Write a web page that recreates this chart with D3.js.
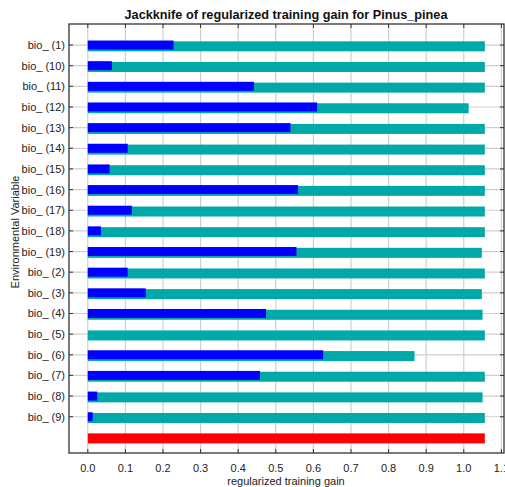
<svg id="svg" width="505" height="487"></svg>
<script src="https://cdn.jsdelivr.net/npm/d3@7"></script>
<script>
    // jackknife values
    var variables = ["bio_ (1)", "bio_ (10)", "bio_ (11)", "bio_ (12)", "bio_ (13)", "bio_ (14)", "bio_ (15)",
        "bio_ (16)", "bio_ (17)", "bio_ (18)", "bio_ (19)", "bio_ (2)", "bio_ (3)", "bio_ (4)", "bio_ (5)",
        "bio_ (6)", "bio_ (7)", "bio_ (8)", "bio_ (9)"];
    var withoutVar = [1.056, 1.056, 1.056, 1.013, 1.056, 1.056, 1.056, 1.056, 1.056, 1.056, 1.048, 1.056,
        1.048, 1.050, 1.056, 0.869, 1.056, 1.050, 1.056];
    var onlyVar = [0.228, 0.064, 0.442, 0.610, 0.539, 0.106, 0.058, 0.559, 0.117, 0.035, 0.555, 0.106,
        0.154, 0.474, 0.0, 0.626, 0.458, 0.025, 0.013];
    var allVars = 1.056;
    var xTicks = [0, 0.1, 0.2, 0.3, 0.4, 0.5, 0.6, 0.7, 0.8, 0.9, 1.0, 1.1];

    var pLeft = 69, pRight = 504, pTop = 24, pBottom = 453;
    var svg = d3.select("#svg");
    var font = "Arial, 'Liberation Sans', sans-serif";

    var rows = variables.concat(["all"]);
    var x = d3.scaleLinear().domain([-0.05, 1.107]).range([pLeft, pRight]);
    var y = d3.scaleBand().domain(rows).range([34.7, 447.7]).padding(0);
    var cy = function (d) { return y(d) + y.bandwidth() / 2; };

    // grid
    svg.append("g").selectAll("line").data(xTicks).enter().append("line")
        .attr("x1", function (d) { return x(d); }).attr("x2", function (d) { return x(d); })
        .attr("y1", pTop).attr("y2", pBottom)
        .attr("stroke", "#cfcfcf").attr("stroke-width", 1.2);
    svg.append("g").selectAll("line").data(variables).enter().append("line")
        .attr("x1", pLeft).attr("x2", pRight)
        .attr("y1", cy).attr("y2", cy)
        .attr("stroke", "#cfcfcf").attr("stroke-width", 1.2);

    // bars: without variable (teal), only variable (blue), all variables (red)
    svg.append("g").selectAll("rect").data(variables).enter().append("rect")
        .attr("x", x(0)).attr("y", function (d) { return cy(d) - 3.7; })
        .attr("width", function (d, i) { return x(withoutVar[i]) - x(0); })
        .attr("height", 10)
        .attr("fill", "#00a8a8");
    svg.append("g").selectAll("rect").data(variables).enter().append("rect")
        .attr("x", x(0)).attr("y", function (d) { return cy(d) - 4.5; })
        .attr("width", function (d, i) { return x(onlyVar[i]) - x(0); })
        .attr("height", 9)
        .attr("fill", "#0000ff");
    svg.append("rect")
        .attr("x", x(0)).attr("y", cy("all") - 4)
        .attr("width", x(allVars) - x(0)).attr("height", 10)
        .attr("fill", "#ff0000");

    // frame and ticks
    svg.append("rect").attr("x", pLeft).attr("y", pTop)
        .attr("width", pRight - pLeft).attr("height", pBottom - pTop)
        .attr("fill", "none").attr("stroke", "#333").attr("stroke-width", 1.3);
    var ticks = svg.append("g").attr("stroke", "#333");
    xTicks.forEach(function (t) {
        ticks.append("line").attr("x1", x(t)).attr("x2", x(t)).attr("y1", pTop).attr("y2", pTop + 4);
        ticks.append("line").attr("x1", x(t)).attr("x2", x(t)).attr("y1", pBottom).attr("y2", pBottom - 4);
    });
    variables.forEach(function (v) {
        ticks.append("line").attr("x1", pLeft).attr("x2", pLeft + 4).attr("y1", cy(v)).attr("y2", cy(v));
        ticks.append("line").attr("x1", pRight).attr("x2", pRight - 4).attr("y1", cy(v)).attr("y2", cy(v));
    });

    // labels
    svg.append("g").selectAll("text").data(xTicks).enter().append("text")
        .attr("x", function (d) { return x(d); }).attr("y", 472)
        .attr("text-anchor", "middle")
        .attr("font-family", font).attr("font-size", 11).attr("fill", "#222")
        .text(d3.format(".1f"));
    svg.append("g").selectAll("text").data(variables).enter().append("text")
        .attr("x", 65).attr("y", function (d) { return cy(d) + 4; })
        .attr("text-anchor", "end")
        .attr("font-family", font).attr("font-size", 11).attr("fill", "#222")
        .text(function (d) { return d; });

    svg.append("text").attr("x", 286).attr("y", 19).attr("text-anchor", "middle")
        .attr("font-family", font).attr("font-size", 12.7).attr("font-weight", "bold").attr("fill", "#111")
        .text("Jackknife of regularized training gain for Pinus_pinea");
    svg.append("text").attr("x", 286).attr("y", 485).attr("text-anchor", "middle")
        .attr("font-family", font).attr("font-size", 11).attr("fill", "#222")
        .text("regularized training gain");
    svg.append("text").attr("transform", "translate(19,232) rotate(-90)").attr("text-anchor", "middle")
        .attr("font-family", font).attr("font-size", 11).attr("fill", "#222")
        .text("Environmental Variable");
</script>
<style>
    html,
    body {
        margin: 0;
        padding: 0;
        background: #fff;
    }
</style>
